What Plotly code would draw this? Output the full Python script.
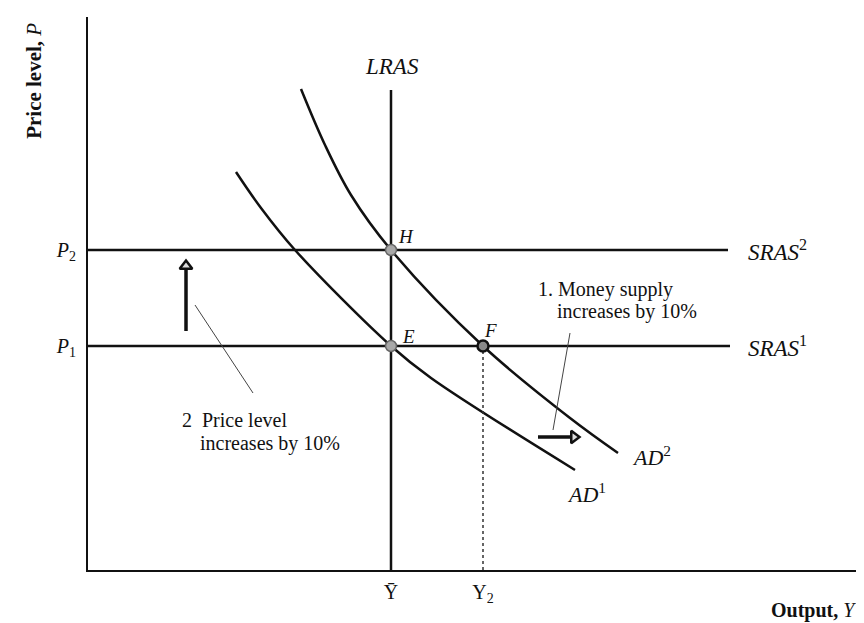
import plotly.graph_objects as go

# ---- data ----
ybar = 30.3          # potential output (LRAS)
y2 = 39.5            # output at F
p1 = 22.4            # initial price level
p2 = 32.0            # new price level
lras_top = 48.0
sras_end = [64.0, 64.2]   # x end of SRAS2, SRAS1

ad1_y = [14.8, 17.3, 20.7, 30.3, 34.3, 48.7]
ad1_p = [39.8, 36.2, 32.0, 22.4, 19.2, 10.0]
ad2_y = [21.3, 23.7, 26.3, 30.3, 39.5, 48.2, 53.0]
ad2_p = [48.1, 42.5, 37.5, 32.0, 22.4, 15.2, 11.7]

points_x = [ybar, ybar, y2]
points_y = [p1, p2, p1]

up_arrow_x = [9.8, 9.8]
up_arrow_y = [23.9, 30.4]
right_arrow_x = [45.0, 48.6]
right_arrow_y = [13.3, 13.3]
price_leader_x = [10.7, 16.5]
price_leader_y = [26.5, 17.7]
money_leader_x = [48.2, 46.5]
money_leader_y = [23.7, 14.0]

ytick_vals = [p1, p2]
ytick_text = ["<i>P</i><sub>1</sub>", "<i>P</i><sub>2</sub>"]
xtick_vals = [ybar, y2]
xtick_text = ["\u0232", "Y<sub>2</sub>"]

FONT = "Liberation Serif"
INK = "#111111"

fig = go.Figure()

def line(x, y, width=2.5, color=INK, dash=None, shape="linear"):
    fig.add_trace(go.Scatter(x=x, y=y, mode="lines",
                             line=dict(color=color, width=width, dash=dash, shape=shape),
                             hoverinfo="skip", showlegend=False))

# LRAS
line([ybar, ybar], [0, lras_top])
# SRAS lines
line([0, sras_end[0]], [p2, p2])
line([0, sras_end[1]], [p1, p1])
# AD curves
line(ad1_y, ad1_p, shape="spline")
line(ad2_y, ad2_p, shape="spline")
# dotted drop line at Y2
line([y2, y2], [0, p1], width=1.5, dash="dot", color="#333333")
# leader lines
line(price_leader_x, price_leader_y, width=1, color="#444444")
line(money_leader_x, money_leader_y, width=1, color="#444444")
# arrows
line(up_arrow_x, up_arrow_y, width=3.5)
fig.add_trace(go.Scatter(x=[up_arrow_x[1]], y=[up_arrow_y[1]], mode="markers",
                         marker=dict(symbol="triangle-up", size=11, color="#dddddd",
                                     line=dict(color=INK, width=2.5)),
                         hoverinfo="skip", showlegend=False))
line(right_arrow_x, right_arrow_y, width=3.5)
fig.add_trace(go.Scatter(x=[right_arrow_x[1]], y=[right_arrow_y[1]], mode="markers",
                         marker=dict(symbol="triangle-right", size=11, color="#dddddd",
                                     line=dict(color=INK, width=2.5)),
                         hoverinfo="skip", showlegend=False))
# equilibrium points
fig.add_trace(go.Scatter(x=points_x, y=points_y, mode="markers",
                         marker=dict(size=11, color=["#a8a8a8", "#a8a8a8", "#8a8a8a"],
                                     line=dict(color=["#666666", "#666666", INK], width=[1.5, 1.5, 2.5])),
                         hoverinfo="skip", showlegend=False))

def label(x, y, text, size=20, xanchor="center", italic=False, xref="x", yref="y", angle=0):
    fig.add_annotation(x=x, y=y, xref=xref, yref=yref, text=(f"<i>{text}</i>" if italic else text),
                       showarrow=False, xanchor=xanchor, yanchor="middle", textangle=angle,
                       font=dict(family=FONT, size=size, color=INK))

label(ybar + 0.1, 50.4, "LRAS", size=23, italic=True)
label(31.8, 33.4, "H", size=19, italic=True)
label(32.0, 23.4, "E", size=19, italic=True)
label(40.2, 24.0, "F", size=19, italic=True)
label(65.8, p2, "<i>SRAS</i><sup>2</sup>", size=23, xanchor="left")
label(65.8, p1, "<i>SRAS</i><sup>1</sup>", size=23, xanchor="left")
label(54.2, 11.4, "<i>AD</i><sup>2</sup>", size=22, xanchor="left")
label(47.7, 7.7, "<i>AD</i><sup>1</sup>", size=22, xanchor="left")
label(44.8, 28.1, "1. Money supply", size=20, xanchor="left")
label(46.7, 25.9, "increases by 10%", size=20, xanchor="left")
label(9.2, 15.0, "2  Price level", size=20, xanchor="left")
label(11.0, 12.7, "increases by 10%", size=20, xanchor="left")
label(-0.070, 0.885, "<b>Price level, </b><i>P</i>", size=21, xref="paper", yref="paper", angle=-90)
fig.add_annotation(x=0.985, y=-0.074, xref="paper", yref="paper", text="<b>Output, </b><i>Y</i>",
                   showarrow=False, xanchor="right", yanchor="middle",
                   font=dict(family=FONT, size=20, color=INK))

fig.update_layout(
    width=864, height=623,
    margin=dict(l=80, r=2, t=9, b=61),
    paper_bgcolor="white", plot_bgcolor="white",
    showlegend=False,
    xaxis=dict(range=[0, 78.2], showgrid=False, zeroline=False, showline=True,
               linecolor=INK, linewidth=2, ticks="", tickvals=xtick_vals, ticktext=xtick_text,
               tickfont=dict(family=FONT, size=20, color=INK), ticklabelstandoff=3, fixedrange=True),
    yaxis=dict(range=[0, 55.3], showgrid=False, zeroline=False, showline=True,
               linecolor=INK, linewidth=2, ticks="", tickvals=ytick_vals, ticktext=ytick_text,
               tickfont=dict(family=FONT, size=20, color=INK), ticklabelstandoff=6, fixedrange=True),
)

fig.write_html("out.html")
